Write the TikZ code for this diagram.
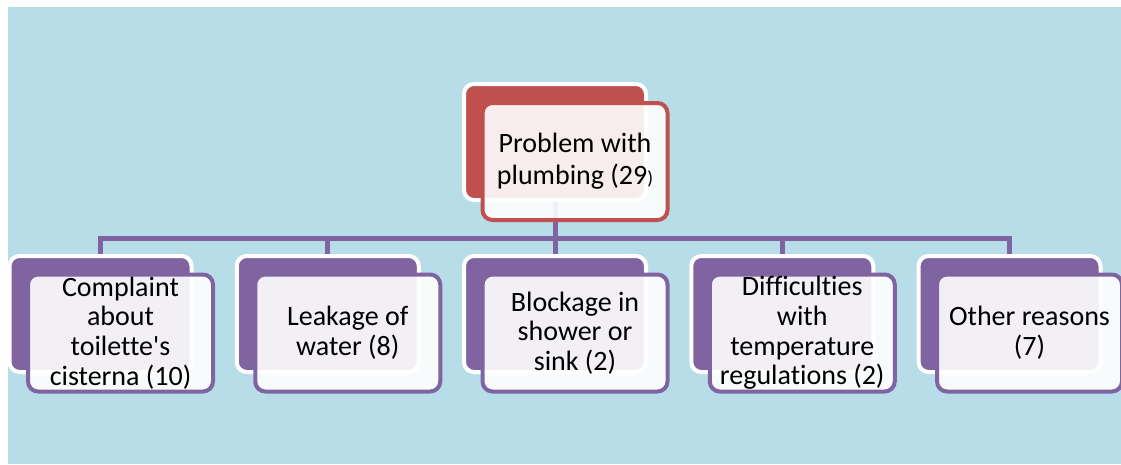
\documentclass[tikz,border=0pt]{standalone}
\usepackage{fontspec}
\newfontfamily\calfont{Carlito}[RawFeature={-liga;-clig}]
\usetikzlibrary{calc}
\definecolor{bgblue}{HTML}{B7DDE8}
\definecolor{accred}{HTML}{C0504D}
\definecolor{accpurple}{HTML}{8064A2}
\begin{document}
\begin{tikzpicture}[x=1pt,y=-1pt,
  backbox/.style={rectangle,rounded corners=10pt,draw=white,line width=4pt,
    minimum width=182pt,minimum height=116pt,inner sep=0pt},
  frontbox/.style={rectangle,rounded corners=10pt,line width=4pt,fill=white,fill opacity=0.9,
    text opacity=1,minimum width=185pt,minimum height=117pt,inner sep=0pt,align=center,
    font=\calfont\fontsize{28}{29.7}\selectfont,text=black},
  conn/.style={draw=accpurple,line width=5pt,line join=miter}]
\useasboundingbox (0,0) rectangle (1121,464);
\fill[bgblue] (8,7) rectangle (1121,464);
\coordinate (bus) at (555,238);
\path (555,142) coordinate (p0)
      (100.5,314) coordinate (p1)
      (327.75,314) coordinate (p2)
      (555,314) coordinate (p3)
      (782.25,314) coordinate (p4)
      (1009.5,314) coordinate (p5);
% connectors
\draw[conn] (p0) -- (bus);
\draw[conn] (p1 |- bus) -- (p1 |- 0,255);
\draw[conn] (p2 |- bus) -- (p2 |- 0,255);
\draw[conn] (bus) -- (p3 |- 0,255);
\draw[conn] (p4 |- bus) -- (p4 |- 0,255);
\draw[conn] (p5 |- bus) -- (p5 |- 0,255);
\draw[conn,line cap=rect] (p1 |- bus) -- (p5 |- bus);
% top
\node[backbox,fill=accred] (b0) at (p0) {};
\node[frontbox,draw=accred,font=\calfont\fontsize{28}{32}\selectfont] (f0) at ($(p0)+(20,19.5)$) {Problem with\\plumbing (29{\fontsize{19}{19}\selectfont )}};
% children
\node[backbox,fill=accpurple] (b1) at (p1) {};
\node[frontbox,draw=accpurple] (f1) at ($(p1)+(20,19)$) {Complaint\\about\\toilette's\\cisterna (10)};
\node[backbox,fill=accpurple] (b2) at (p2) {};
\node[frontbox,draw=accpurple] (f2) at ($(p2)+(20,19)$) {Leakage of\\water (8)};
\node[backbox,fill=accpurple] (b3) at (p3) {};
\node[frontbox,draw=accpurple] (f3) at ($(p3)+(20,19)$) {Blockage in\\shower or\\sink (2)};
\node[backbox,fill=accpurple] (b4) at (p4) {};
\node[frontbox,draw=accpurple] (f4) at ($(p4)+(20,19)$) {Difficulties\\with\\temperature\\regulations (2)};
\node[backbox,fill=accpurple] (b5) at (p5) {};
\node[frontbox,draw=accpurple] (f5) at ($(p5)+(20,19)$) {Other reasons\\(7)};
\end{tikzpicture}
\end{document}
